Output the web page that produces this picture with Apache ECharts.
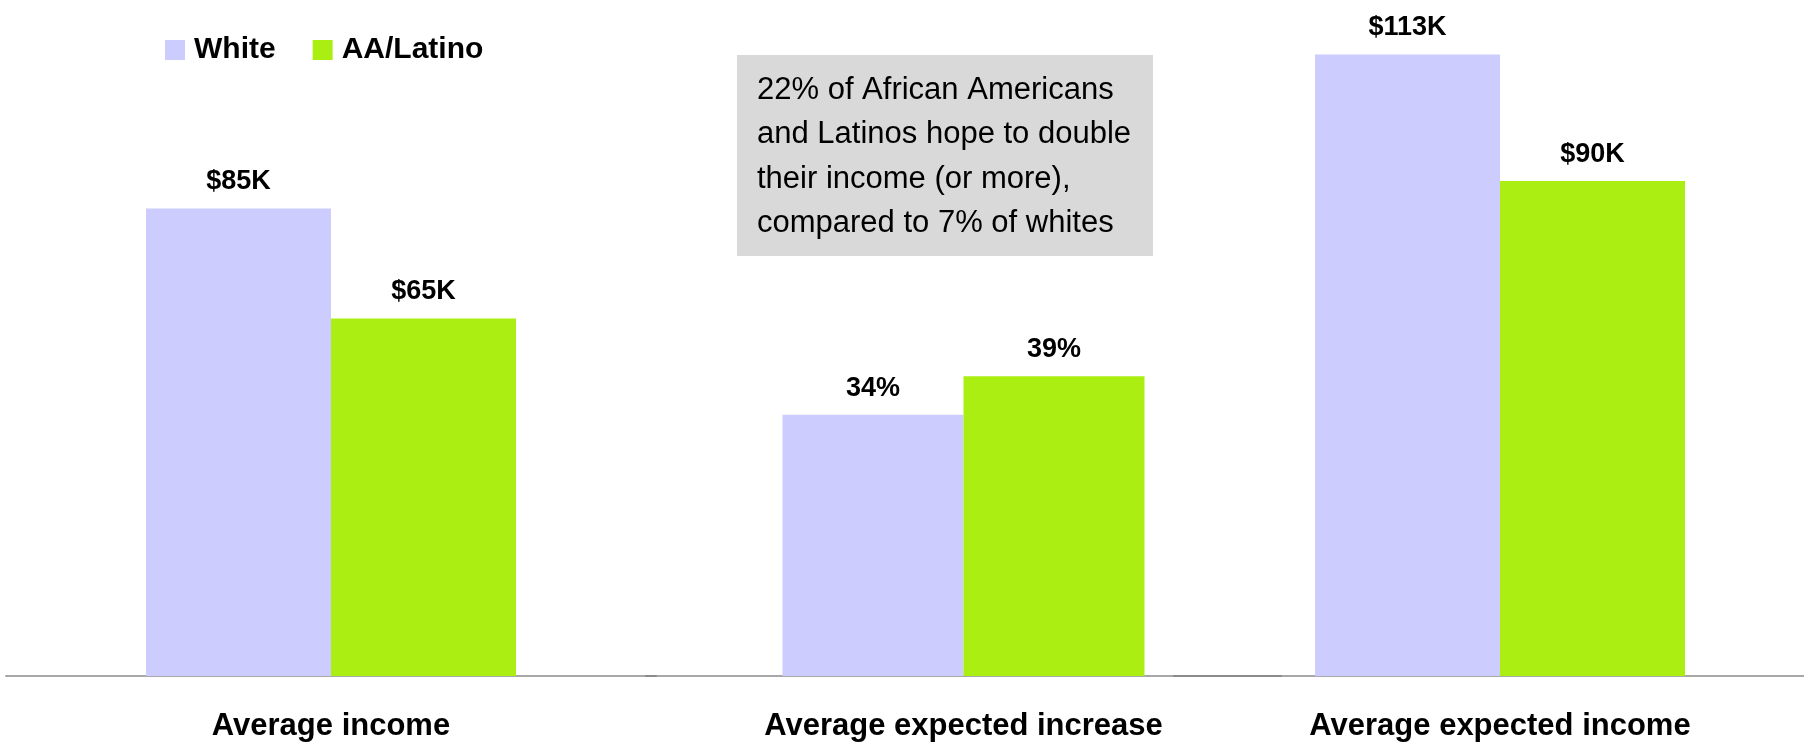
<!DOCTYPE html>
<html>
<head>
<meta charset="utf-8">
<script src="https://cdn.jsdelivr.net/npm/echarts@6/dist/echarts.min.js"></script>
<style>
html,body{margin:0;padding:0;background:#fff;}
#chart{width:1804px;height:743px;}
</style>
</head>
<body>
<div id="chart"></div>
<script>
const categories = ['Average income', 'Average expected increase', 'Average expected income'];
const seriesNames = ['White', 'AA/Latino'];
const whiteValues = [85, 34, 113];
const aaValues = [65, 39, 90];
const valuePrefixes = ['$', '', '$'];
const valueSuffixes = ['K', '%', 'K'];
const axisMax = [120, 80, 120];
const noteLines = [
  '22% of African Americans',
  'and Latinos hope to double',
  'their income (or more),',
  'compared to 7% of whites'
];

const FONT = '"Liberation Sans", Arial, Helvetica, sans-serif';
const COLORS = ['#ccccff', '#abee12'];

const grids = [
  {left: 6, width: 650, top: 16, bottom: 67, outerBoundsMode: 'none', containLabel: false},
  {left: 646, width: 635, top: 61, bottom: 67, outerBoundsMode: 'none', containLabel: false},
  {left: 1174, width: 652, top: 16, bottom: 67, outerBoundsMode: 'none', containLabel: false}
];
const barWidths = [185, 181, 185];

const xAxes = [], yAxes = [], series = [];
categories.forEach((cat, i) => {
  xAxes.push({
    type: 'category', gridIndex: i, data: [cat],
    axisLine: {show: true, lineStyle: {color: 'rgba(127,127,127,0.68)', width: 2}},
    axisTick: {show: false},
    axisLabel: {color: '#000', fontFamily: FONT, fontWeight: 'bold', fontSize: 31, margin: 35}
  });
  yAxes.push({type: 'value', gridIndex: i, min: 0, max: axisMax[i], show: false, splitLine: {show: false}});
  [whiteValues, aaValues].forEach((vals, s) => {
    series.push({
      type: 'bar', name: seriesNames[s], xAxisIndex: i, yAxisIndex: i,
      data: [vals[i]], barWidth: barWidths[i], barGap: '0%',
      itemStyle: {color: COLORS[s]},
      label: {
        show: true, position: 'top', distance: 13,
        color: '#000', fontFamily: FONT, fontWeight: 'bold', fontSize: 27,
        formatter: p => valuePrefixes[i] + p.value + valueSuffixes[i]
      },
      silent: true, animation: false
    });
  });
});

const chart = echarts.init(document.getElementById('chart'), null, {renderer: 'canvas'});
chart.setOption({
  backgroundColor: '#fff',
  animation: false,
  grid: grids,
  xAxis: xAxes,
  yAxis: yAxes,
  legend: {
    data: seriesNames, left: 160, top: 30, icon: 'rect',
    itemWidth: 20, itemHeight: 20, itemGap: 37,
    textStyle: {color: '#000', fontFamily: FONT, fontWeight: 'bold', fontSize: 30, padding: [0, 0, 0, 4]},
    selectedMode: false
  },
  graphic: [
    {type: 'rect', left: 737, top: 55, shape: {width: 416, height: 201}, style: {fill: '#d9d9d9'}, silent: true},
    {type: 'text', left: 757, top: 68, style: {
      text: noteLines.join('\n'), fill: '#000', font: '31px ' + FONT, lineHeight: 44.5
    }, silent: true}
  ],
  series: series
});
</script>
</body>
</html>
